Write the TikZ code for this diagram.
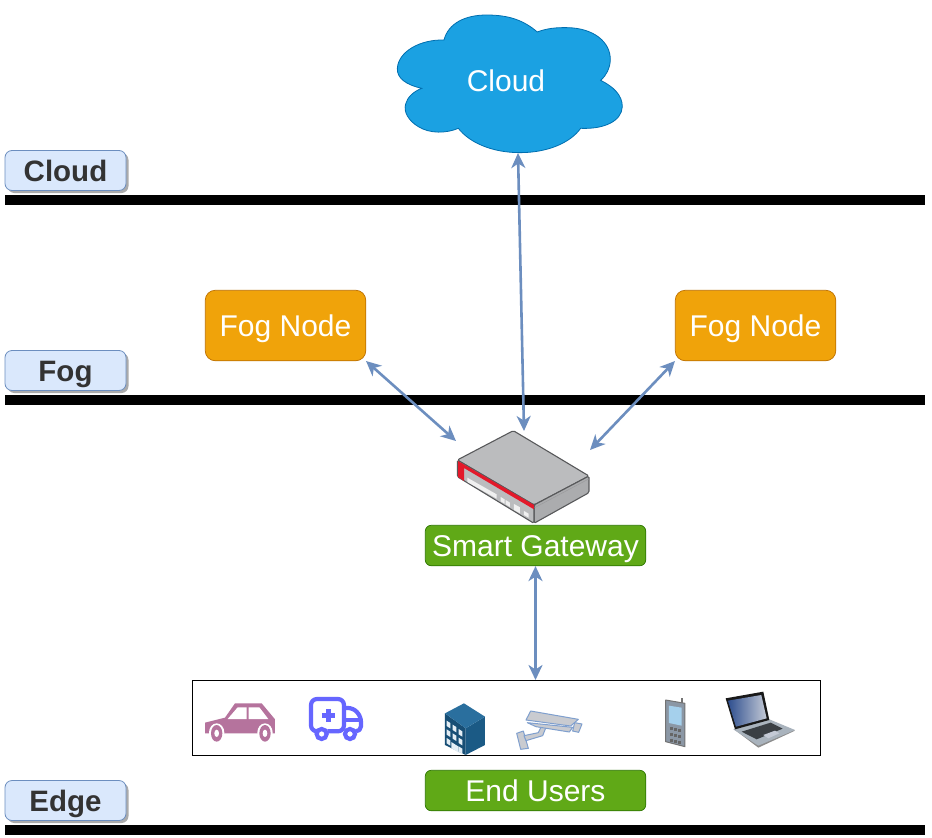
\documentclass[tikz,border=0pt]{standalone}
\usepackage{fontspec}
\setmainfont{Liberation Sans}
\usetikzlibrary{shadows,arrows.meta}
\definecolor{arrowblue}{HTML}{6C8EBF}
\definecolor{labelfill}{HTML}{DAE8FC}
\definecolor{cloudfill}{HTML}{1BA1E2}
\definecolor{cloudline}{HTML}{006EAF}
\definecolor{fogfill}{HTML}{F0A30A}
\definecolor{fogline}{HTML}{BD7000}
\definecolor{greenfill}{HTML}{60A917}
\definecolor{greenline}{HTML}{2D7600}
\definecolor{labeltext}{HTML}{333333}
\definecolor{carcol}{HTML}{B5739D}
\definecolor{ambcol}{HTML}{6666FF}
\definecolor{bldtop}{HTML}{2A6F9E}
\definecolor{bldright}{HTML}{1B5A85}
\definecolor{bldleft}{HTML}{174E75}
\definecolor{bldwin}{HTML}{E4EEF5}
\definecolor{phonebody}{HTML}{8B97A5}
\definecolor{phonescreen}{HTML}{A5D0EC}
\definecolor{gwred}{HTML}{E3192A}
\definecolor{gwtop}{HTML}{BBBCBE}
\definecolor{gwside}{HTML}{ABACAE}
\definecolor{gwedge}{HTML}{58595B}
\definecolor{lapblue}{HTML}{2F4F8F}
\definecolor{lapglow}{HTML}{C4CAD6}
\definecolor{lapbase}{HTML}{A9B3BD}
\definecolor{lapkeys}{HTML}{3A3F44}
\definecolor{camfill}{HTML}{C9CBD0}
\definecolor{camline}{HTML}{7F9FCE}
\tikzset{
  bigtext/.style={font=\fontsize{30}{36}\selectfont,text height=22pt,text depth=0pt},
  layerlabel/.style={draw=arrowblue,fill=labelfill,rounded corners=7pt,minimum width=121pt,minimum height=40pt,
    inner sep=0pt,text=labeltext,font=\fontsize{29.5}{36}\selectfont\bfseries,text height=21.5pt,text depth=0pt,line width=0.8pt,
    drop shadow={shadow xshift=2.5pt,shadow yshift=-2.5pt,fill=black!55,opacity=0.6}},
  bar/.style={fill=black},
  fogbox/.style={draw=fogline,fill=fogfill,rounded corners=10pt,minimum width=160.5pt,minimum height=70.5pt,
    inner sep=0pt,text=white,bigtext,line width=0.7pt},
  greenbox/.style={draw=greenline,fill=greenfill,rounded corners=6pt,minimum width=220.5pt,minimum height=40.5pt,
    inner sep=0pt,text=white,bigtext,line width=0.7pt},
  link/.style={draw=arrowblue,line width=2.6pt,{Stealth[length=15pt,width=14pt,inset=4.5pt]}-{Stealth[length=15pt,width=14pt,inset=4.5pt]}},
  zoomA/.style={x=0.3333pt,y=-0.3333pt,xshift=190pt,yshift=-670pt},
  zoomB/.style={x=0.3333pt,y=-0.3333pt,xshift=500pt,yshift=-670pt},
  zoomC/.style={x=0.3333pt,y=-0.3333pt,xshift=430pt,yshift=-410pt},
  zoomD/.style={x=0.3333pt,y=-0.3333pt,xshift=380pt,yshift=0pt},
}
\begin{document}
\begin{tikzpicture}[x=1pt,y=-1pt]
\useasboundingbox (0,0) rectangle (932,838);
\fill[white] (0,0) rectangle (932,838);

% layer bars
\fill[bar] (5,195) rectangle (925,205);
\fill[bar] (5,395) rectangle (925,405);
\fill[bar] (5,825) rectangle (925,835);

% layer labels
\node[layerlabel] (lblcloud) at (65.5,170.5) {Cloud};
\node[layerlabel] (lblfog) at (65.5,370.5) {Fog};
\node[layerlabel] (lbledge) at (65.5,800.5) {Edge};

% cloud
\begin{scope}[zoomD]
\draw[draw=cloudline,fill=cloudfill,line width=0.8pt]
  (192,120) .. controls (205,70) and (255,45) .. (320,45)
  .. controls (385,45) and (430,60) .. (472,96)
  .. controls (500,85) and (530,82) .. (565,83)
  .. controls (640,85) and (692,125) .. (691,180)
  .. controls (690,205) and (680,225) .. (662,241)
  .. controls (700,260) and (727,285) .. (727,320)
  .. controls (725,365) and (670,388) .. (602,385)
  .. controls (570,430) and (500,458) .. (420,458)
  .. controls (340,458) and (270,430) .. (235,385)
  .. controls (200,400) and (150,402) .. (115,380)
  .. controls (85,362) and (70,335) .. (77,312)
  .. controls (82,292) and (100,275) .. (125,265)
  .. controls (80,255) and (50,235) .. (52,205)
  .. controls (55,155) and (120,118) .. (192,120) -- cycle;
\end{scope}
\node[text=white,bigtext,inner sep=0pt] (cloud) at (506,80.5) {Cloud};

% fog nodes
\node[fogbox] (fogL) at (285.5,325.5) {Fog Node};
\node[fogbox] (fogR) at (755.5,325.5) {Fog Node};

% gateway device
\begin{scope}[zoomC]
\draw[draw=gwedge,line width=1.1pt,line join=round,fill=gwtop,rounded corners=1.5pt] (82,150) -- (250,62) -- (477,198) -- (312,285) -- cycle;
\draw[draw=gwedge,line width=1.1pt,line join=round,fill=gwside,rounded corners=1.5pt] (312,285) -- (477,198) -- (477,248) -- (312,340) -- cycle;
\draw[draw=gwedge,line width=1.1pt,line join=round,fill=gwtop,rounded corners=1.5pt] (82,150) -- (312,285) -- (312,340) -- (82,200) -- cycle;
\draw[gwedge!60,line width=0.5pt] (314,293) -- (476,207);
\fill[gwred] (84,153) -- (312,285) -- (312,298) -- (102,174) -- (102,213) -- (84,201) -- cycle;
\fill[white!94!black] (112,203) -- (200,253) -- (200,266) -- (112,216) -- cycle;
\fill[white!94!black] (212,261) -- (224,268) -- (224,281) -- (212,274) -- cycle;
\fill[white!94!black] (227,270) -- (240,278) -- (240,291) -- (227,283) -- cycle;
\fill[white!94!black] (252,282) -- (270,292) -- (270,310) -- (252,300) -- cycle;
\fill[white!94!black] (282,303) -- (296,311) -- (296,323) -- (282,315) -- cycle;
\end{scope}

\node[greenbox] (gateway) at (535.5,545.5) {Smart Gateway};

% end-user frame
\node[draw=black,line width=1pt,minimum width=628.5pt,minimum height=75pt,inner sep=0pt] (users) at (506.25,718) {};

% car
\begin{scope}[zoomA]
\fill[carcol] (45,158) -- (105,143) -- (135,100) -- (215,100) -- (255,148) -- (255,190) -- (45,190) -- cycle;
\fill[white] (113,147) -- (143,112) -- (170,112) -- (170,147) -- cycle;
\fill[white] (176,112) -- (208,112) -- (235,147) -- (176,147) -- cycle;
\fill[white] (80,188) ellipse (23 and 28);
\fill[white] (225,188) ellipse (23 and 28);
\fill[carcol] (80,190) ellipse (17 and 25);
\fill[carcol] (225,190) ellipse (17 and 25);
\fill[white] (80,190) ellipse (7 and 11);
\fill[white] (225,190) ellipse (7 and 11);
% ambulance
\draw[ambcol,line width=4.2pt,line join=round,rounded corners=6pt]
  (378,184) -- (363,184) -- (363,87) -- (462,87) -- (462,184) -- (412,184);
\draw[ambcol,line width=4.2pt,line join=round,rounded corners=5pt]
  (462,114) -- (490,114) -- (513,140) -- (513,184) -- (498,184);
\draw[ambcol,line width=3.4pt] (462,150) -- (513,150);
\draw[ambcol,line width=4.4pt] (415,118) -- (415,156) (396,137) -- (434,137);
\draw[ambcol,line width=4.2pt,fill=white] (395,192) circle (15);
\draw[ambcol,line width=4.2pt,fill=white] (480,192) circle (15);
% building
\fill[bldleft] (765,130) -- (827,175) -- (827,255) -- (765,225) -- cycle;
\foreach \cx/\cy in {770/152,788/164,806/177,770/178,788/190,806/203,770/204,806/229}{
  \fill[bldwin] (\cx,\cy) -- ++(11,7) -- ++(0,16) -- ++(-11,-7) -- cycle;
}
\fill[bldwin] (784,216) -- (806,230) -- (806,248) -- (784,234) -- cycle;
\fill[bldright] (827,175) -- (885,140) -- (885,225) -- (827,255) -- cycle;
\fill[bldtop] (765,130) -- (822,100) -- (885,140) -- (827,175) -- cycle;
\end{scope}

\begin{scope}[zoomB]
% camera
\draw[draw=camline,line width=1pt,line join=round,fill=camfill] (50,190) -- (70,183) -- (85,235) -- (62,238) -- cycle;
\draw[draw=camline,line width=1pt,line join=round,fill=camfill] (125,168) -- (138,172) -- (128,197) -- (78,212) -- (72,197) -- (115,188) -- cycle;
\draw[draw=camline,line width=1pt,line join=round,fill=camfill] (82,158) -- (218,172) -- (208,186) -- (108,170) -- cycle;
\draw[draw=camline,line width=1pt,line join=round,fill=camfill] (92,123) -- (235,148) -- (212,168) -- (78,150) -- cycle;
\draw[draw=camline,line width=1pt,line join=round,fill=camfill] (224,158) -- (246,162) -- (236,187) -- (218,183) -- cycle;
% phone
\draw[black!55,line width=1.4pt] (546,85) -- (546,100);
\draw[draw=black!55,line width=1pt,line join=round,fill=phonebody] (497,90) -- (555,100) -- (555,230) -- (497,215) -- cycle;
\fill[phonescreen] (507,107) -- (545,113) -- (545,167) -- (507,159) -- cycle;
\foreach \row in {0,1,2}{
  \foreach \col in {0,1,2}{
    \fill[black!60] ({510+12*\col},{172+\col*3+\row*17}) rectangle ++(8,9);
  }
}
% laptop
\fill[black!45] (705,180) -- (775,233) -- (885,182) -- (808,150) -- cycle;
\fill[lapbase] (700,178) -- (808,148) -- (885,180) -- (775,227) -- cycle;
\fill[lapkeys] (725,185) -- (812,158) -- (848,176) -- (770,208) -- cycle;
\fill[lapglow] (790,195) -- (825,182) -- (838,190) -- (805,205) -- cycle;
\fill[black!90] (677,85) -- (790,65) -- (808,150) -- (705,178) -- cycle;
\shade[shading angle=60,left color=lapblue,right color=lapglow] (684,92) -- (784,75) -- (800,145) -- (708,170) -- cycle;
\end{scope}

\node[greenbox] (endusers) at (535.5,790.5) {End Users};

% connector free ends
\coordinate (cloudBottom) at (518,153);
\coordinate (gwTop) at (524,431);
\coordinate (gwLeft) at (456,441);
\coordinate (gwRight) at (590,450);
\coordinate (fogLcorner) at (366,361);
\coordinate (fogRcorner) at (675,361);
\coordinate (usersTop) at (535.5,680);

\draw[link] (cloudBottom) -- (gwTop);
\draw[link] (fogLcorner) -- (gwLeft);
\draw[link] (fogRcorner) -- (gwRight);
\draw[link] (gateway.south) -- (usersTop);
\end{tikzpicture}
\end{document}
